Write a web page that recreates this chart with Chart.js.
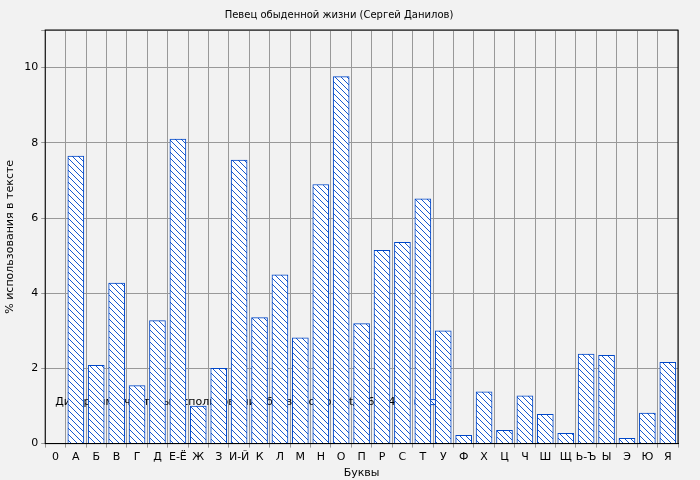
<!DOCTYPE html>
<html><head><meta charset="UTF-8">
<script src="https://cdn.jsdelivr.net/npm/chart.js@4"></script>
<style>
html,body{margin:0;padding:0;background:#f2f2f2;}
#wrap{width:700px;height:480px;}
</style></head>
<body><div id="wrap"><canvas id="c" width="700" height="480"></canvas></div>
<script>
const letters = ['0','А','Б','В','Г','Д','Е-Ё','Ж','З','И-Й','К','Л','М','Н','О','П','Р','С','Т','У','Ф','Х','Ц','Ч','Ш','Щ','Ь-Ъ','Ы','Э','Ю','Я'];
const values = [7.65,2.08,4.27,1.54,3.27,8.1,1.0,2.0,7.54,3.35,4.49,2.81,6.89,9.76,3.19,5.14,5.35,6.51,3.0,0.22,1.38,0.35,1.27,0.78,0.27,2.38,2.35,0.14,0.81,2.16];
const blue = '#0047c8';

function hatch() {
  const p = document.createElement('canvas');
  p.width = 6; p.height = 6;
  const g = p.getContext('2d');
  g.fillStyle = '#fff'; g.fillRect(0,0,6,6);
  g.strokeStyle = blue; g.lineWidth = 0.9;
  g.beginPath();
  g.moveTo(0,0); g.lineTo(6,6);
  g.moveTo(-3,3); g.lineTo(3,9);
  g.moveTo(3,-3); g.lineTo(9,3);
  g.stroke();
  return g.createPattern(p,'repeat');
}

const frame = {
  id: 'frame',
  afterDraw(chart) {
    const {ctx, chartArea: a} = chart;
    ctx.save(); ctx.strokeStyle = '#000'; ctx.lineWidth = 1;
    ctx.strokeRect(a.left, a.top, a.right - a.left, a.bottom - a.top);
    ctx.restore();
  }
};

Chart.defaults.font.family = 'DejaVu Sans';
Chart.defaults.font.size = 11;
Chart.defaults.color = '#000';

new Chart(document.getElementById('c'), {
  type: 'bar',
  data: {
    datasets: [{
      label: 'Диаграмма частоты использования букв coollib.net/b/650451',
      data: values.map((v, i) => ({x: i + 1, y: v})),
      backgroundColor: hatch(),
      borderColor: blue,
      borderWidth: 1,
      barThickness: 16
    }]
  },
  options: {
    responsive: false,
    animation: false,
    layout: {padding: {left: 0, right: 22, top: 0, bottom: 0}},
    plugins: {
      title: {display: true, text: 'Певец обыденной жизни (Сергей Данилов)', font: {size: 10, weight: 'normal'}, padding: {top: 9, bottom: 9}},
      legend: {
        position: 'chartArea', align: 'end', rtl: true,
        labels: {boxWidth: 32, boxHeight: 5, font: {size: 11}, padding: 6}
      },
      tooltip: {enabled: false}
    },
    scales: {
      x: {
        type: 'linear', min: 0, max: 30,
        ticks: {stepSize: 1, autoSkip: false, maxRotation: 0, callback: v => letters[v] ?? ''},
        grid: {color: '#999', drawTicks: true, tickLength: 4},
        border: {dash: [], color: '#000'},
        title: {display: true, text: 'Буквы', padding: 0}
      },
      y: {
        min: 0, max: 11,
        ticks: {stepSize: 2, callback: v => v % 2 === 0 && v <= 10 ? v : ''},
        grid: {color: '#999', tickLength: 4},
        title: {display: true, text: '% использования в тексте'}
      }
    }
  },
  plugins: [frame, {
    id: 'dash',
    beforeDraw(chart) {
      chart.options.scales.x.grid.borderDash = [2,3];
    }
  }]
});
</script></body></html>
